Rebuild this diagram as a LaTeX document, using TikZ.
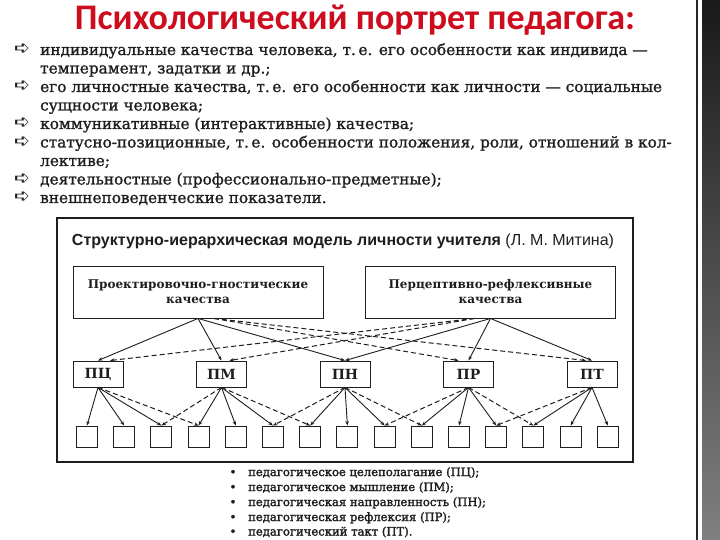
\documentclass[tikz,border=0pt]{standalone}
\usepackage{fontspec}
\setmainfont{DejaVu Serif}
\setsansfont{Liberation Sans}
\newfontfamily\headfont{Carlito}
\newfontfamily\symbfont{DejaVu Sans}
\newfontfamily\scanfont[FakeBold=1.2]{DejaVu Serif}
\newfontfamily\legfont[FakeBold=2]{DejaVu Serif}
\usepackage{xcolor}
\usetikzlibrary{arrows.meta,positioning,calc}
\definecolor{headred}{RGB}{205,12,30}
\definecolor{ink}{RGB}{30,30,30}

\begin{document}
\begin{tikzpicture}[
  x=1pt, y=-1pt,
  >={Stealth[length=4.5pt,width=3.5pt]},
  txt/.style={anchor=base west, inner sep=0pt, text=ink, font=\scanfont\fontsize{15.3}{17}\selectfont},
  bul/.style={anchor=base, inner sep=0pt, text=ink, font=\symbfont\bfseries\fontsize{19}{20}\selectfont},
  leg/.style={anchor=base west, inner sep=0pt, text=ink, font=\legfont\fontsize{11.6}{14}\selectfont},
  quality/.style={draw=ink, line width=0.9pt, minimum width=250pt, minimum height=52pt, align=center, text=ink, font=\bfseries\fontsize{12}{15}\selectfont},
  trait/.style={draw=ink, line width=0.9pt, minimum width=50pt, minimum height=26pt, text=ink, font=\bfseries\fontsize{14}{16}\selectfont},
  cell/.style={draw=ink, line width=0.9pt, minimum width=21pt, minimum height=21pt, inner sep=0pt},
  link/.style={->, draw=ink, line width=0.9pt},
  dlink/.style={->, draw=ink, line width=1pt, dash pattern=on 5pt off 3pt},
]
\useasboundingbox (0,0) rectangle (720,540);
\fill[white] (0,0) rectangle (720,540);
% right edge decoration
\shade[top color=black!90, bottom color=black!50] (702,0) rectangle (720,540);
\draw[line width=1.5pt, black!85] (697,0) -- (697,540);
% heading
\node[font=\headfont\bfseries\fontsize{36}{42}\selectfont, text=headred] (title) at (355,20) {Психологический портрет педагога:};
% list of traits
\node[bul] (b1) at (22,55) {➪};
\node[txt] (t1) at (40,55) {индивидуальные качества человека, т.\,е. его особенности как индивида —};
\node[txt] (t2) at (40,73.5) {темперамент, задатки и др.;};
\node[bul] (b2) at (22,92) {➪};
\node[txt] (t3) at (40,92) {его личностные качества, т.\,е. его особенности как личности — социальные};
\node[txt] (t4) at (40,110.5) {сущности человека;};
\node[bul] (b3) at (22,129) {➪};
\node[txt] (t5) at (40,129) {коммуникативные (интерактивные) качества;};
\node[bul] (b4) at (22,147.5) {➪};
\node[txt] (t6) at (40,147.5) {статусно-позиционные, т.\,е. особенности положения, роли, отношений в кол-};
\node[txt] (t7) at (40,166) {лективе;};
\node[bul] (b5) at (22,184.5) {➪};
\node[txt] (t8) at (40,184.5) {деятельностные (профессионально-предметные);};
\node[bul] (b6) at (22,203) {➪};
\node[txt] (t9) at (40,203) {внешнеповеденческие показатели.};
% model frame
\node[draw=ink, line width=2.4pt, minimum width=576pt, minimum height=244pt] (frame) at (345,340) {};
\node[font=\sffamily\fontsize{16}{18}\selectfont, text=ink] (head) at (343,241) {\textbf{Структурно-иерархическая модель личности учителя} (Л.~М.~Митина)};
% upper qualities
\node[quality] (proj) at (198,292) {Проектировочно-гностические\\качества};
\node[quality] (perc) at (490.5,292) {Перцептивно-рефлексивные\\качества};
% components
\node[trait] (goal) at (98,374) {ПЦ};
\node[trait] (think) at (221.5,374) {ПМ};
\node[trait] (dir) at (345,374) {ПН};
\node[trait] (refl) at (468.5,374) {ПР};
\node[trait] (tact) at (592,374) {ПТ};
% lower cells
\foreach \i in {0,...,14}
  \node[cell] (c\i) at ({87+37.2*\i},436.5) {};
% upper links
\draw[link] (proj.south) -- (goal.north);
\draw[link] (proj.south) -- (think.north);
\draw[link] (proj.south) -- (dir.north);
\draw[dlink] ($(proj.south)+(16,0)$) -- ($(refl.north)+(-10,0)$);
\draw[dlink] ($(proj.south)+(16,0)$) -- ($(tact.north)+(-6,0)$);
\draw[link] (perc.south) -- (dir.north);
\draw[link] (perc.south) -- (refl.north);
\draw[link] (perc.south) -- (tact.north);
\draw[dlink] ($(perc.south)+(-16,0)$) -- ($(goal.north)+(12,0)$);
\draw[dlink] ($(perc.south)+(-16,0)$) -- ($(think.north)+(8,0)$);
% lower links
\foreach \m [count=\k from 0] in {goal,think,dir,refl,tact}
  \foreach \j in {0,1,2} {
    \pgfmathtruncatemacro\c{3*\k+\j}
    \draw[link] (\m.south) -- (c\c.north);
  }
\draw[dlink] (goal.south) -- (c3.north);
\draw[dlink] (think.south) -- (c2.north);
\draw[dlink] (think.south) -- (c6.north);
\draw[dlink] (dir.south) -- (c5.north);
\draw[dlink] (dir.south) -- (c9.north);
\draw[dlink] (refl.south) -- (c8.north);
\draw[dlink] (refl.south) -- (c12.north);
\draw[dlink] (tact.south) -- (c11.north);
% legend
\node[leg, anchor=base] (d1) at (233,476) {•};
\node[leg] (l1) at (248,476) {педагогическое целеполагание (ПЦ);};
\node[leg, anchor=base] (d2) at (233,491) {•};
\node[leg] (l2) at (248,491) {педагогическое мышление (ПМ);};
\node[leg, anchor=base] (d3) at (233,506) {•};
\node[leg] (l3) at (248,506) {педагогическая направленность (ПН);};
\node[leg, anchor=base] (d4) at (233,521) {•};
\node[leg] (l4) at (248,521) {педагогическая рефлексия (ПР);};
\node[leg, anchor=base] (d5) at (233,535.5) {•};
\node[leg] (l5) at (248,535.5) {педагогический такт (ПТ).};
\end{tikzpicture}
\end{document}
